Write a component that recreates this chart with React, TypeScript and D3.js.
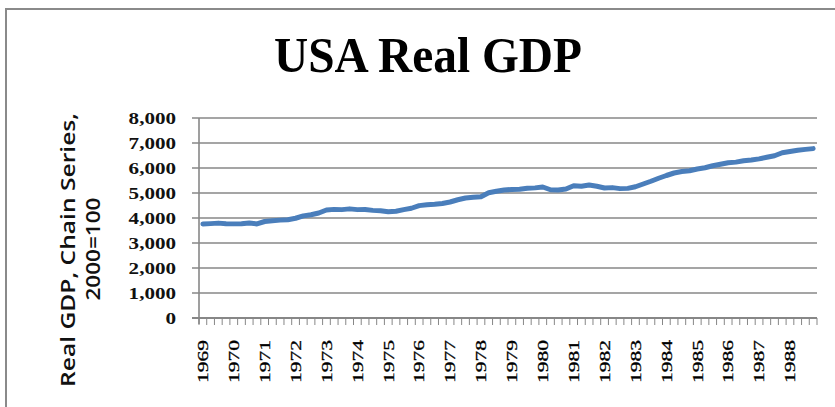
import React from "react";
import * as d3 from "d3";

const years = ["1969","1970","1971","1972","1973","1974","1975","1976","1977","1978","1979","1980","1981","1982","1983","1984","1985","1986","1987","1988"];
const gdp = [
  3760, 3775, 3795, 3768,
  3765, 3772, 3800, 3762,
  3860, 3892, 3915, 3930,
  3990, 4085, 4130, 4200,
  4320, 4345, 4335, 4365,
  4335, 4340, 4305, 4290,
  4250, 4270, 4335, 4390,
  4495, 4530, 4550, 4580,
  4640, 4730, 4800, 4830,
  4850, 5010, 5070, 5120,
  5140, 5150, 5190, 5205,
  5240, 5130, 5120, 5160,
  5290, 5270, 5320, 5270,
  5200, 5215, 5175, 5185,
  5250, 5360, 5470, 5590,
  5700, 5800, 5860, 5890,
  5960, 6010, 6090, 6150,
  6210, 6235, 6290, 6320,
  6365, 6430, 6490, 6610,
  6660, 6710, 6745, 6775,
];
const yTicks = [0, 1000, 2000, 3000, 4000, 5000, 6000, 7000, 8000];
const title = "USA Real GDP";
const yTitle1 = "Real GDP, Chain Series,";
const yTitle2 = "2000=100";

export default function App() {
  const W = 835, H = 407;
  const left = 199, right = 817, top = 118, bottom = 318;
  const idx = gdp.map((_, i) => i);
  const x = d3.scaleBand<number>().domain(idx).range([left, right]).paddingInner(0).paddingOuter(0);
  const y = d3.scaleLinear().domain([0, 8000]).range([bottom, top]);
  const line = d3.line<number>().x((_, i) => (x(i) as number) + x.bandwidth() / 2).y((d) => y(d));
  const fmt = d3.format(",");
  const grid = "#878787";
  const boundaries = d3.range(gdp.length + 1).map((i) => left + i * x.bandwidth());

  return (
    <svg width={W} height={H} style={{ position: "absolute", left: 0, top: 0, display: "block" }}>
      <rect x={0} y={0} width={W} height={H} fill="#fff" />
      <rect x={6} y={9} width={W + 50} height={H + 50} fill="none" stroke="#8a8a8a" strokeWidth={2} />
      <text x={428} y={72} textAnchor="middle" fontFamily="'Liberation Serif', 'Times New Roman', serif" fontWeight="bold" fontSize={51} textLength={308} lengthAdjust="spacingAndGlyphs" fill="#000">{title}</text>
      {yTicks.map((t) => (
        <line key={"g" + t} x1={192} x2={right} y1={y(t)} y2={y(t)} stroke={grid} strokeWidth={t === 0 ? 2.2 : 1.6} />
      ))}
      <line x1={left} x2={left} y1={top} y2={bottom + 6} stroke={grid} strokeWidth={1.6} />
      {boundaries.map((bx, i) => (
        <line key={"xt" + i} x1={bx} x2={bx} y1={bottom} y2={bottom + 7} stroke={grid} strokeWidth={1} />
      ))}
      {yTicks.map((t) => {
        const s = fmt(t);
        const len = s.replace(/,/g, "").length * 10.6 + (s.includes(",") ? 5 : 0);
        return (
          <text key={"yl" + t} x={176} y={y(t)} dy="0.36em" textAnchor="end" fontFamily="'Liberation Serif', 'Times New Roman', serif" fontWeight="bold" fontSize={17} textLength={len} lengthAdjust="spacingAndGlyphs" fill="#111">{s}</text>
        );
      })}
      {years.map((yr, k) => {
        const cx = (x(k * 4) as number) + x.bandwidth() / 2;
        return (
          <text key={"xl" + yr} transform={`translate(${cx},340) rotate(-90)`} dy="0.35em" textAnchor="end" fontFamily="'Liberation Serif', 'Times New Roman', serif" fontSize={15} textLength={43} lengthAdjust="spacingAndGlyphs" fill="#000" stroke="#000" strokeWidth={0.3}>{yr}</text>
        );
      })}
      <text transform={`translate(68,250) rotate(-90)`} dy="0.35em" textAnchor="middle" fontFamily="'Open Sans', 'DejaVu Sans', sans-serif" fontWeight={600} fontSize={19} textLength={274} lengthAdjust="spacingAndGlyphs" fill="#111">{yTitle1}</text>
      <text transform={`translate(93,249) rotate(-90)`} dy="0.35em" textAnchor="middle" fontFamily="'Open Sans', 'DejaVu Sans', sans-serif" fontWeight={600} fontSize={19} textLength={103} lengthAdjust="spacingAndGlyphs" fill="#111">{yTitle2}</text>
      <path d={line(gdp) || ""} fill="none" stroke="#4A7EBB" strokeWidth={5} strokeLinejoin="round" strokeLinecap="round" />
    </svg>
  );
}
